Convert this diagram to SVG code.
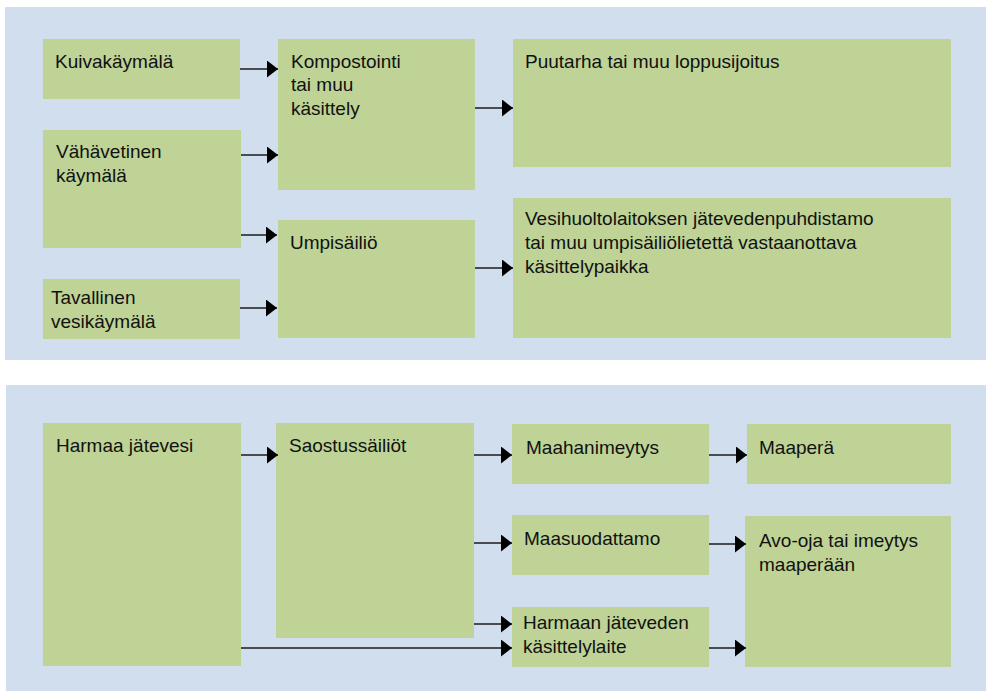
<svg xmlns="http://www.w3.org/2000/svg" width="986" height="691" viewBox="0 0 986 691">
<style>
.panel{fill:#d1deed}
.box{fill:#bed395}
.t{font-family:"Liberation Sans",Arial,sans-serif;font-size:19px;fill:#111}
.c{stroke:#1a1a1a;stroke-width:1.6;fill:none;marker-end:url(#ah)}
</style>
<defs>
<marker id="ah" markerUnits="userSpaceOnUse" markerWidth="12" markerHeight="18" refX="11" refY="8.5" orient="auto">
<path d="M0,0 L11,8.5 L0,17 z" fill="#000"/>
</marker>
</defs>
<rect width="986" height="691" fill="#fff"/>
<rect class="panel" x="5" y="7" width="981" height="353"/>
<rect class="panel" x="6" y="385" width="980" height="306"/>

<g id="kuivakaymala"><rect class="box" x="43" y="39" width="197" height="60"/><text class="t" x="55" y="68">Kuivakäymälä</text></g>
<g id="vahavetinen"><rect class="box" x="43" y="130" width="198" height="118"/><text class="t" x="56" y="158">Vähävetinen</text><text class="t" x="56" y="182">käymälä</text></g>
<g id="tavallinen"><rect class="box" x="43" y="279" width="197" height="60"/><text class="t" x="51" y="304">Tavallinen</text><text class="t" x="51" y="328">vesikäymälä</text></g>
<g id="kompostointi"><rect class="box" x="278" y="39" width="197" height="151"/><text class="t" x="291" y="68">Kompostointi</text><text class="t" x="291" y="91">tai muu</text><text class="t" x="291" y="115">käsittely</text></g>
<g id="umpisailio"><rect class="box" x="278" y="220" width="197" height="118"/><text class="t" x="290" y="249">Umpisäiliö</text></g>
<g id="puutarha"><rect class="box" x="513" y="39" width="438" height="128"/><text class="t" x="525" y="68">Puutarha tai muu loppusijoitus</text></g>
<g id="vesihuolto"><rect class="box" x="513" y="198" width="438" height="140"/><text class="t" x="525" y="225">Vesihuoltolaitoksen jätevedenpuhdistamo</text><text class="t" x="525" y="249">tai muu umpisäiliölietettä vastaanottava</text><text class="t" x="525" y="273">käsittelypaikka</text></g>

<g id="harmaa"><rect class="box" x="43" y="423" width="198" height="243"/><text class="t" x="56" y="452">Harmaa jätevesi</text></g>
<g id="saostus"><rect class="box" x="276" y="423" width="198" height="215"/><text class="t" x="289" y="452">Saostussäiliöt</text></g>
<g id="maahanimeytys"><rect class="box" x="512" y="424" width="197" height="60"/><text class="t" x="526" y="454">Maahanimeytys</text></g>
<g id="maapera"><rect class="box" x="747" y="424" width="204" height="60"/><text class="t" x="759" y="454">Maaperä</text></g>
<g id="maasuodattamo"><rect class="box" x="512" y="515" width="197" height="60"/><text class="t" x="524" y="545">Maasuodattamo</text></g>
<g id="avooja"><rect class="box" x="745" y="516" width="206" height="151"/><text class="t" x="759" y="547">Avo-oja tai imeytys</text><text class="t" x="759" y="571">maaperään</text></g>
<g id="kasittelylaite"><rect class="box" x="512" y="607" width="197" height="60"/><text class="t" x="523" y="629">Harmaan jäteveden</text><text class="t" x="523" y="653">käsittelylaite</text></g>

<g id="connectors">
<line class="c" x1="240" y1="69" x2="278" y2="69"/>
<line class="c" x1="241" y1="155" x2="278" y2="155"/>
<line class="c" x1="241" y1="235" x2="277" y2="235"/>
<line class="c" x1="240" y1="308" x2="277" y2="308"/>
<line class="c" x1="475" y1="108" x2="513" y2="108"/>
<line class="c" x1="475" y1="268" x2="513" y2="268"/>
<line class="c" x1="241" y1="455" x2="278" y2="455"/>
<line class="c" x1="474" y1="455" x2="512" y2="455"/>
<line class="c" x1="474" y1="543" x2="512" y2="543"/>
<line class="c" x1="474" y1="624" x2="512" y2="624"/>
<line class="c" x1="241" y1="648" x2="512" y2="648"/>
<line class="c" x1="709" y1="455" x2="747" y2="455"/>
<line class="c" x1="709" y1="544" x2="746" y2="544"/>
<line class="c" x1="709" y1="648" x2="746" y2="648"/>
</g>
</svg>
